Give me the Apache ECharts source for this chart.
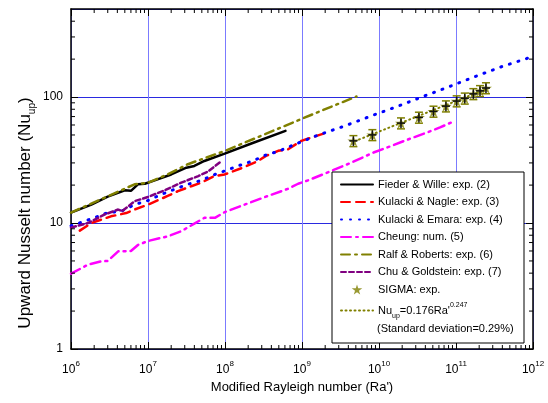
<!DOCTYPE html>
<html>
<head>
<meta charset="utf-8">
<script src="https://cdn.jsdelivr.net/npm/echarts@6/dist/echarts.min.js"></script>
<style>
html, body { margin: 0; padding: 0; background: #fff; }
#main { width: 548px; height: 403px; }
</style>
</head>
<body>
<div id="main"></div>
<script>
// Fieder & Wille: exp. (2)
var fwRa = [1e6, 1.84e6, 3e6, 5e6, 6e6, 7.4e6, 9.1e6, 1.22e7, 2e7, 3.15e7, 4e7, 5.4e7, 9.9e7, 2.2e8, 6.1e8];
var fwNu = [12.1, 14.0, 16.2, 18.2, 18.0, 20.3, 20.5, 21.8, 24.3, 27.5, 28.4, 31.1, 35.6, 42.8, 53.9];
// Kulacki & Nagle: exp. (3)
var knRa = [1.3e6, 1.84e6, 3.3e6, 5.2e6, 6.7e6, 1e7, 1.8e7, 2.45e7, 3.65e7, 4.9e7, 7.3e7, 9.9e7, 1.7e8, 2.7e8, 3.4e8, 4.9e8, 6.6e8, 9.8e8, 2.1e9];
var knNu = [8.7, 10.0, 11.3, 12.0, 12.8, 14.0, 16.4, 17.9, 19.6, 20.9, 23.6, 24.3, 27.5, 31.1, 34.1, 37.4, 38.5, 44.9, 52.3];
// Kulacki & Emara: exp. (4)
var keRa = [1e6, 2e6, 3e6, 4.5e6, 6.7e6, 1e7, 1.5e7, 2.2e7, 3.3e7, 4.9e7, 7e7, 1.04e8, 1.55e8, 2.3e8, 3.4e8, 4.9e8, 7.6e8, 1.1e9, 1.6e9, 3.6e9, 8e9, 1.8e10, 3.9e10, 8.5e10, 1.8e11, 4e11, 1e12];
var keNu = [9.5, 11.0, 12.1, 12.4, 14.0, 15.1, 16.9, 18.5, 20.3, 21.8, 24.0, 26.2, 28.7, 31.1, 34.7, 37.0, 41.5, 45.4, 49.8, 59.0, 71.0, 85.0, 102, 122, 146, 175, 210];
// Cheung: num. (5)
var chRa = [1e6, 1.66e6, 2.45e6, 3e6, 4.1e6, 6e6, 7.4e6, 1e7, 1.82e7, 2.7e7, 4e7, 5.4e7, 7.4e7, 9.9e7, 1.8e8, 3.6e8, 6.6e8, 8.9e8, 1.2e9, 2.4e9, 4.4e9, 8.5e9, 1.38e10, 2.3e10, 4.2e10, 6.2e10, 9.7e10];
var chNu = [3.96, 4.67, 4.96, 5.0, 5.96, 6.0, 6.7, 7.2, 7.85, 8.6, 9.9, 11.0, 11.0, 12.2, 14.0, 16.4, 18.7, 20.5, 21.8, 25.9, 30.2, 36.3, 40.5, 45.7, 52.3, 57.4, 64.7];
// Ralf & Roberts: exp. (6)
var rrRa = [1e6, 3e6, 6.7e6, 1e7, 1.8e7, 3.3e7, 1e8, 3.3e8, 1.46e9, 5.1e9];
var rrNu = [12.1, 16.3, 20.3, 20.9, 24.3, 29.3, 37.4, 50.7, 74.1, 101];
// Chu & Goldstein: exp. (7)
var cgRa = [1e6, 1.66e6, 2.75e6, 4.1e6, 4.6e6, 6.7e6, 1e7, 1.65e7, 2.7e7, 4.5e7, 6e7, 9e7];
var cgNu = [9.2, 10.0, 11.7, 12.8, 12.4, 14.9, 16.1, 18.2, 20.9, 23.6, 25.6, 31.0];
// SIGMA: exp.
var sgRa = [4.65e9, 8.2e9, 1.93e10, 3.3e10, 5.1e10, 7.4e10, 1.02e11, 1.3e11, 1.68e11, 2.05e11, 2.45e11];
var sgNu = [44.9, 50.1, 62.1, 68.9, 76.9, 84.7, 92.9, 97.7, 106, 112, 118];
var sgErr = [4.5, 5.0, 6.2, 6.9, 7.7, 8.5, 9.3, 9.8, 10.6, 11.2, 11.8];
// fit line
var fitRa = [5.5e9, 2.5e11];
var fitNu = [46, 116];

// minor tick positions (log axes)
var xMinor = [2e6, 3e6, 4e6, 5e6, 6e6, 7e6, 8e6, 9e6,
  2e7, 3e7, 4e7, 5e7, 6e7, 7e7, 8e7, 9e7,
  2e8, 3e8, 4e8, 5e8, 6e8, 7e8, 8e8, 9e8,
  2e9, 3e9, 4e9, 5e9, 6e9, 7e9, 8e9, 9e9,
  2e10, 3e10, 4e10, 5e10, 6e10, 7e10, 8e10, 9e10,
  2e11, 3e11, 4e11, 5e11, 6e11, 7e11, 8e11, 9e11];
var yMinor = [2, 3, 4, 5, 6, 7, 8, 9, 20, 30, 40, 50, 60, 70, 80, 90, 200, 300, 400];

var names = ['Fieder & Wille: exp. (2)', 'Kulacki & Nagle: exp. (3)', 'Kulacki & Emara: exp. (4)',
  'Cheung: num. (5)', 'Ralf & Roberts: exp. (6)', 'Chu & Goldstein: exp. (7)', 'SIGMA: exp.', 'fit'];

var font = "'Liberation Sans', Arial, sans-serif";
var star = 'path://M50,0 L61,35 L98,35 L68,57 L79,91 L50,70 L21,91 L32,57 L2,35 L39,35 Z';

function zip(a, b) {
  return a.map(function (v, i) { return [v, b[i]]; });
}

function line(name, ra, nu, color, type, width) {
  return {
    name: name,
    type: 'line',
    data: zip(ra, nu),
    symbol: 'none',
    lineStyle: { color: color, type: type, width: width || 2.5, cap: 'round' },
    itemStyle: { color: color },
    z: 3
  };
}

function isPow10(v) {
  var l = Math.log10(v);
  return Math.abs(l - Math.round(l)) < 1e-6;
}

function tickSeries(data, vertical) {
  return {
    type: 'custom',
    silent: true,
    data: data,
    z: 6,
    renderItem: function (params, api) {
      var cs = params.coordSys;
      var p = api.coord([api.value(0), api.value(1)]);
      var s = { stroke: '#000', lineWidth: 1 };
      if (vertical) {
        return { type: 'group', children: [
          { type: 'line', shape: { x1: p[0], y1: cs.y + cs.height, x2: p[0], y2: cs.y + cs.height - 4 }, style: s },
          { type: 'line', shape: { x1: p[0], y1: cs.y, x2: p[0], y2: cs.y + 4 }, style: s }
        ] };
      }
      return { type: 'group', children: [
        { type: 'line', shape: { x1: cs.x, y1: p[1], x2: cs.x + 4, y2: p[1] }, style: s },
        { type: 'line', shape: { x1: cs.x + cs.width, y1: p[1], x2: cs.x + cs.width - 4, y2: p[1] }, style: s }
      ] };
    }
  };
}

var myChart = echarts.init(document.getElementById('main'));

var legendData = names.map(function (n) {
  if (n === 'SIGMA: exp.') {
    return { name: n };
  }
  return { name: n, itemStyle: { opacity: 0 } };
});

var axisBase = {
  type: 'log',
  logBase: 10,
  axisLine: { lineStyle: { color: '#000', width: 1.5 } },
  axisTick: { inside: true, length: 7, lineStyle: { color: '#000' } },
  minorTick: { show: false }
};

var option = {
  animation: false,
  backgroundColor: '#fff',
  grid: { left: 71, right: 15, top: 9, bottom: 54 },
  xAxis: [Object.assign({}, axisBase, {
    min: 1e6,
    max: 1e12,
    splitNumber: 6,
    splitLine: { show: true, lineStyle: { color: '#7b7bff', width: 1 } },
    axisLabel: {
      margin: 11,
      formatter: function (v) {
        return '{b|10}{s|' + Math.round(Math.log10(v)) + '}';
      },
      rich: {
        b: { fontSize: 12, fontFamily: font, color: '#000', lineHeight: 16, verticalAlign: 'bottom' },
        s: { fontSize: 8, fontFamily: font, color: '#000', lineHeight: 16, verticalAlign: 'top' }
      }
    },
    name: "Modified Rayleigh number (Ra')",
    nameLocation: 'middle',
    nameGap: 31,
    nameTextStyle: { fontSize: 13, fontFamily: font, color: '#000' }
  }), Object.assign({}, axisBase, {
    min: 1e6,
    max: 1e12,
    splitNumber: 6,
    position: 'top',
    splitLine: { show: false },
    axisLabel: { show: false }
  })],
  yAxis: [Object.assign({}, axisBase, {
    min: 1,
    max: 500,
    splitNumber: 3,
    splitLine: { show: true, lineStyle: { color: '#2a2ae0', width: 1 } },
    axisLabel: {
      margin: 8,
      fontSize: 12,
      fontFamily: font,
      color: '#000',
      showMaxLabel: false,
      formatter: function (v) { return isPow10(v) ? String(Math.round(v)) : ''; }
    }
  }), Object.assign({}, axisBase, {
    min: 1,
    max: 500,
    splitNumber: 3,
    position: 'right',
    splitLine: { show: false },
    axisLabel: { show: false }
  })],
  legend: {
    orient: 'vertical',
    left: 332,
    top: 173,
    padding: [6, 10, 8, 8],
    itemWidth: 32,
    itemHeight: 10,
    itemGap: 6.5,
    z: 10,
    data: legendData,
    textStyle: {
      fontSize: 11,
      fontFamily: font,
      color: '#000',
      rich: {
        n: { fontSize: 11, fontFamily: font, color: '#000', lineHeight: 18, verticalAlign: 'middle' },
        sub: { fontSize: 7, fontFamily: font, color: '#000', lineHeight: 18, verticalAlign: 'bottom' },
        sup: { fontSize: 7, fontFamily: font, color: '#000', lineHeight: 18, verticalAlign: 'top' }
      }
    },
    formatter: function (name) {
      if (name === 'fit') {
        return "{n|Nu}{sub|up}{n|=0.176Ra'}{sup|0.247}";
      }
      return name;
    }
  },
  graphic: [{
    type: 'rect',
    shape: { x: 332, y: 172, width: 192, height: 171 },
    style: { fill: '#fff', stroke: '#000', lineWidth: 1 },
    z: 8
  }, {
    type: 'text',
    x: 377,
    y: 329,
    style: { text: '(Standard deviation=0.29%)', font: '11px ' + font, fill: '#000', verticalAlign: 'middle' },
    z: 9
  }, {
    type: 'text',
    x: 25,
    y: 213,
    rotation: Math.PI / 2,
    style: {
      text: 'Upward Nusselt number (Nu{sub|up})',
      font: '17px ' + font,
      fill: '#000',
      align: 'center',
      verticalAlign: 'middle',
      rich: {
        sub: { fontSize: 10, fontFamily: font, fill: '#000', verticalAlign: 'bottom', lineHeight: 24 }
      }
    }
  }],
  series: [
    line(names[0], fwRa, fwNu, '#000000', 'solid', 2.5),
    line(names[1], knRa, knNu, '#ff0000', [9, 6], 2.5),
    line(names[2], keRa, keNu, '#0000ff', [1, 8], 3),
    line(names[3], chRa, chNu, '#ff00ff', [10, 5, 2, 5], 2.5),
    line(names[4], rrRa, rrNu, '#808000', [9, 5, 2, 5], 2.5),
    line(names[5], cgRa, cgNu, '#800080', [5, 3], 2.5),
    {
      name: names[6],
      type: 'scatter',
      data: zip(sgRa, sgNu),
      symbol: star,
      symbolSize: 12,
      symbolKeepAspect: true,
      itemStyle: { color: '#808000' },
      z: 4
    },
    {
      name: 'sigmaErr',
      type: 'custom',
      data: sgRa.map(function (v, i) { return [v, sgNu[i], sgErr[i]]; }),
      z: 5,
      renderItem: function (params, api) {
        var x = api.value(0), y = api.value(1), e = api.value(2);
        var c = api.coord([x, y]);
        var hi = api.coord([x, y + e]);
        var lo = api.coord([x, y - e]);
        return {
          type: 'group',
          children: [
            { type: 'line', shape: { x1: c[0], y1: hi[1], x2: c[0], y2: lo[1] }, style: { stroke: '#111', lineWidth: 1.5 } },
            { type: 'line', shape: { x1: c[0] - 4, y1: hi[1], x2: c[0] + 4, y2: hi[1] }, style: { stroke: '#808000', lineWidth: 1.5 } },
            { type: 'line', shape: { x1: c[0] - 4, y1: lo[1], x2: c[0] + 4, y2: lo[1] }, style: { stroke: '#808000', lineWidth: 1.5 } },
            { type: 'line', shape: { x1: c[0] - 4, y1: c[1], x2: c[0] + 4, y2: c[1] }, style: { stroke: '#111', lineWidth: 1.5 } }
          ]
        };
      }
    },
    line(names[7], fitRa, fitNu, '#808000', [1, 3.5], 2),
    tickSeries(xMinor.map(function (v) { return [v, 1]; }), true),
    tickSeries(yMinor.map(function (v) { return [1e6, v]; }), false)
  ]
};

myChart.setOption(option);
</script>
</body>
</html>
